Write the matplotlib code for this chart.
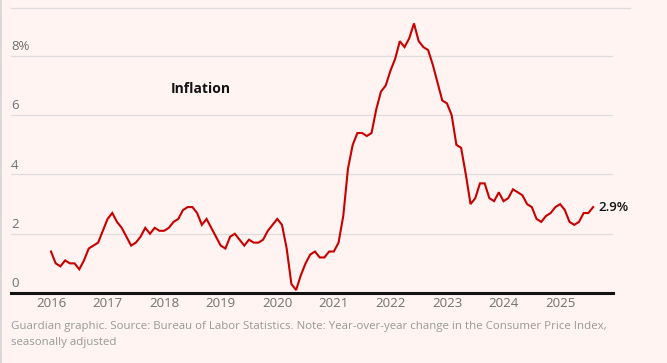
import numpy as np
import matplotlib.pyplot as plt
from matplotlib.lines import Line2D

# US CPI, year-over-year % change, monthly Jan 2016 - Aug 2025
cpi_2016 = [1.4, 1.0, 0.9, 1.1, 1.0, 1.0, 0.8, 1.1, 1.5, 1.6, 1.7, 2.1]
cpi_2017 = [2.5, 2.7, 2.4, 2.2, 1.9, 1.6, 1.7, 1.9, 2.2, 2.0, 2.2, 2.1]
cpi_2018 = [2.1, 2.2, 2.4, 2.5, 2.8, 2.9, 2.9, 2.7, 2.3, 2.5, 2.2, 1.9]
cpi_2019 = [1.6, 1.5, 1.9, 2.0, 1.8, 1.6, 1.8, 1.7, 1.7, 1.8, 2.1, 2.3]
cpi_2020 = [2.5, 2.3, 1.5, 0.3, 0.1, 0.6, 1.0, 1.3, 1.4, 1.2, 1.2, 1.4]
cpi_2021 = [1.4, 1.7, 2.6, 4.2, 5.0, 5.4, 5.4, 5.3, 5.4, 6.2, 6.8, 7.0]
cpi_2022 = [7.5, 7.9, 8.5, 8.3, 8.6, 9.1, 8.5, 8.3, 8.2, 7.7, 7.1, 6.5]
cpi_2023 = [6.4, 6.0, 5.0, 4.9, 4.0, 3.0, 3.2, 3.7, 3.7, 3.2, 3.1, 3.4]
cpi_2024 = [3.1, 3.2, 3.5, 3.4, 3.3, 3.0, 2.9, 2.5, 2.4, 2.6, 2.7, 2.9]
cpi_2025 = [3.0, 2.8, 2.4, 2.3, 2.4, 2.7, 2.7, 2.9]

years = list(range(2016, 2026))
y_ticks = [0, 2, 4, 6, 8]
y_labels = ['0', '2', '4', '6', '8%']

BG = '#fff4f2'
RED = '#c70000'
GRID = '#dcdcdc'

plt.rcParams['font.family'] = ['Open Sans', 'DejaVu Sans']


def main():
    values = (cpi_2016 + cpi_2017 + cpi_2018 + cpi_2019 + cpi_2020
              + cpi_2021 + cpi_2022 + cpi_2023 + cpi_2024 + cpi_2025)
    t = 2016 + np.arange(len(values)) / 12

    W, H = 667, 363
    fig = plt.figure(figsize=(W / 100, H / 100), dpi=100, facecolor=BG)
    ax = fig.add_axes([11 / W, 1 - 293 / H, (613 - 11) / W, (293 - 8) / H])
    ax.set_facecolor(BG)

    ax.set_xlim(2015.293, 2025.935)
    ax.set_ylim(0, 9.62)

    for v in y_ticks[1:]:
        ax.axhline(v, color=GRID, lw=0.9, zorder=1)
    for v, lab in zip(y_ticks, y_labels):
        ax.annotate(lab, (0, v), xycoords=('axes fraction', 'data'),
                    xytext=(0, 2), textcoords='offset points',
                    ha='left', va='bottom', fontsize=9.5, color='#707070')

    ax.plot(t, values, color=RED, lw=1.5, zorder=3, solid_joinstyle='miter')

    ax.annotate('2.9%', (t[-1], values[-1]), xytext=(3.5, 0),
                textcoords='offset points', ha='left', va='center',
                fontsize=9.5, fontweight='semibold', color='#121212')
    ax.text(2018.12, 6.9, 'Inflation', ha='left', va='center',
            fontsize=10, fontweight='bold', color='#121212')

    for s in ['top', 'right', 'left']:
        ax.spines[s].set_visible(False)
    ax.spines['bottom'].set_color('#121212')
    ax.spines['bottom'].set_linewidth(2.2)
    ax.set_yticks([])
    ax.set_xticks(years)
    ax.set_xticklabels([str(y) for y in years])
    ax.tick_params(axis='x', length=0, pad=3, labelsize=9.5, labelcolor='#707070')

    # top rule and left border
    fig.add_artist(Line2D([11 / W, 630 / W], [1 - 8 / H, 1 - 8 / H],
                          color=GRID, lw=0.9))
    fig.add_artist(Line2D([1 / W, 1 / W], [0, 1], color='#d8d8d8', lw=1.5))

    fig.text(11 / W, 1 - 326 / H,
             'Guardian graphic. Source: Bureau of Labor Statistics. Note: '
             'Year-over-year change in the Consumer Price Index,',
             ha='left', va='center', fontsize=8.25, color='#999999')
    fig.text(11 / W, 1 - 342 / H, 'seasonally adjusted',
             ha='left', va='center', fontsize=8.25, color='#999999')

    fig.savefig('out.png', dpi=100, facecolor=BG)


if __name__ == '__main__':
    main()
